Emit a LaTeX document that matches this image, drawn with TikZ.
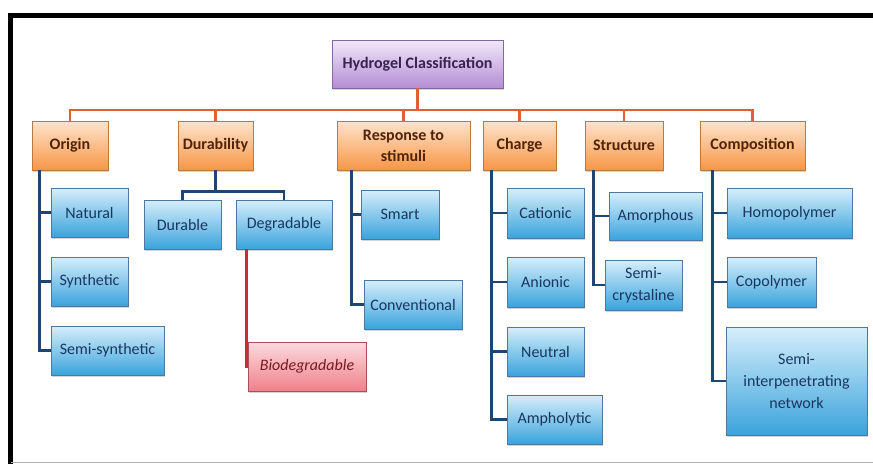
\documentclass[tikz,border=0pt]{standalone}
\usepackage{fontspec}
\setmainfont{Carlito}
\usepackage{tikz}
\usetikzlibrary{shadows}
\usetikzlibrary{calc}
\definecolor{bluetop}{RGB}{214,238,251}
\definecolor{bluebot}{RGB}{58,163,220}
\definecolor{blueedge}{RGB}{78,120,160}
\definecolor{bluetext}{RGB}{25,55,95}
\definecolor{orangetop}{RGB}{253,228,204}
\definecolor{orangebot}{RGB}{247,150,70}
\definecolor{orangeedge}{RGB}{190,120,60}
\definecolor{orangetext}{RGB}{80,35,10}
\definecolor{purpletop}{RGB}{242,232,249}
\definecolor{purplebot}{RGB}{180,140,212}
\definecolor{purpleedge}{RGB}{130,105,160}
\definecolor{purpletext}{RGB}{55,35,80}
\definecolor{redtop}{RGB}{252,218,222}
\definecolor{redbot}{RGB}{240,128,138}
\definecolor{rededge}{RGB}{170,80,90}
\definecolor{redtext}{RGB}{120,25,40}
\definecolor{busline}{RGB}{225,95,55}
\definecolor{trunkline}{RGB}{30,70,115}
\definecolor{bioline}{RGB}{195,45,55}
\newcommand{\drawtrunk}{\draw[trunkline, line width=2.8pt]}
\newcommand{\drawbus}{\draw[busline, line width=2.8pt]}
\tikzset{
    box/.style={draw, line width=0.8pt, inner sep=2pt, align=center,
        font=\fontsize{16}{22}\selectfont,
        drop shadow={shadow xshift=1.2pt, shadow yshift=-1.8pt, opacity=0.35}},
    rootbox/.style={box, draw=purpleedge, top color=purpletop, bottom color=purplebot,
        text=purpletext, font=\fontsize{16}{22}\selectfont\bfseries},
    catbox/.style={box, draw=orangeedge, top color=orangetop, bottom color=orangebot,
        text=orangetext, font=\fontsize{16}{21}\selectfont\bfseries},
    leafbox/.style={box, draw=blueedge, top color=bluetop, bottom color=bluebot,
        text=bluetext},
    biobox/.style={box, draw=rededge, top color=redtop, bottom color=redbot,
        text=redtext, font=\fontsize{16}{22}\selectfont\itshape},
}

\begin{document}
\begin{tikzpicture}[x=1pt, y=-1pt]
    \useasboundingbox (0,0) rectangle (873,464);

    % Draw frame
    \draw[line width=5pt, line cap=rect] (10.5,15.5) -- (873,15.5);
    \draw[line width=5pt] (10.5,13) -- (10.5,464);
    \draw[black!30, line width=1pt] (10.5,462.5) -- (873,462.5);

    % Draw root and categories
    \node[rootbox, minimum width=171, minimum height=48] (hydro) at (417.5,64) {Hydrogel Classification};

    \node[catbox, minimum width=76, minimum height=49] (origin) at (70,145.5) {Origin};
    \node[catbox, minimum width=75, minimum height=49] (durab) at (215.5,145.5) {Durability};
    \node[catbox, minimum width=133, minimum height=49] (resp) at (403.5,145.5) {Response to\\stimuli};
    \node[catbox, minimum width=73, minimum height=49] (charge) at (519.5,145.5) {Charge};
    \node[catbox, minimum width=78, minimum height=49] (struct) at (624,145.5) {Structure};
    \node[catbox, minimum width=105, minimum height=49] (compo) at (752.5,145.5) {Composition};

    % Draw leaves
    \node[leafbox, minimum width=77, minimum height=49] (natural) at (89.5,212.5) {Natural};
    \node[leafbox, minimum width=77, minimum height=49] (synth) at (89.5,281.5) {Synthetic};
    \node[leafbox, minimum width=113, minimum height=49] (semisyn) at (107.5,350.5) {Semi-synthetic};

    \node[leafbox, minimum width=77, minimum height=49] (durable) at (182.5,224.5) {Durable};
    \node[leafbox, minimum width=96, minimum height=49] (degrad) at (284,224.5) {Degradable};
    \node[biobox, minimum width=118, minimum height=49] (bio) at (307,366.5) {Biodegradable};

    \node[leafbox, minimum width=78, minimum height=49] (smart) at (400,214.5) {Smart};
    \node[leafbox, minimum width=98, minimum height=49] (conv) at (413,304.5) {Conventional};

    \node[leafbox, minimum width=77, minimum height=50] (cationic) at (545.5,213) {Cationic};
    \node[leafbox, minimum width=77, minimum height=50] (anionic) at (545.5,282) {Anionic};
    \node[leafbox, minimum width=77, minimum height=49] (neutral) at (545.5,351.5) {Neutral};
    \node[leafbox, minimum width=95, minimum height=49] (ampho) at (554.5,419.5) {Ampholytic};

    \node[leafbox, minimum width=93, minimum height=48] (amorph) at (655.5,216) {Amorphous};
    \node[leafbox, minimum width=77, minimum height=50] (semicryst) at (643.5,285) {Semi-\\crystaline};

    \node[leafbox, minimum width=125, minimum height=50] (homo) at (789.5,213) {Homopolymer};
    \node[leafbox, minimum width=89, minimum height=50] (copoly) at (771.5,282) {Copolymer};
    \node[leafbox, minimum width=141, minimum height=108] (sipn) at (796.5,381) {Semi-\\interpenetrating\\network};

    % Draw bus
    \coordinate (bus) at (417.5,110);
    \drawbus (hydro.south) -- (bus);
    \foreach \c in {origin, durab, resp, charge, struct, compo} {
        \drawbus (bus) -| (\c.north);
    }

    % Draw trunks
    \foreach \c in {natural, synth, semisyn} {
        \drawtrunk ([xshift=8]origin.south west) |- (\c.west);
    }
    \drawtrunk (durab.south) -- ++(0,21) -| (durable.north);
    \drawtrunk (durab.south) -- ++(0,21) -| (degrad.north);
    \draw[bioline, line width=2.8pt] ([xshift=11]degrad.south west) |- (bio.west);
    \foreach \c in {smart, conv} {
        \drawtrunk ([xshift=15]resp.south west) |- (\c.west);
    }
    \foreach \c in {cationic, anionic, neutral, ampho} {
        \drawtrunk ([xshift=9]charge.south west) |- (\c.west);
    }
    \foreach \c in {amorph, semicryst} {
        \drawtrunk ([xshift=9]struct.south west) |- (\c.west);
    }
    \foreach \c in {homo, copoly, sipn} {
        \drawtrunk ([xshift=13]compo.south west) |- (\c.west);
    }
\end{tikzpicture}
\end{document}
